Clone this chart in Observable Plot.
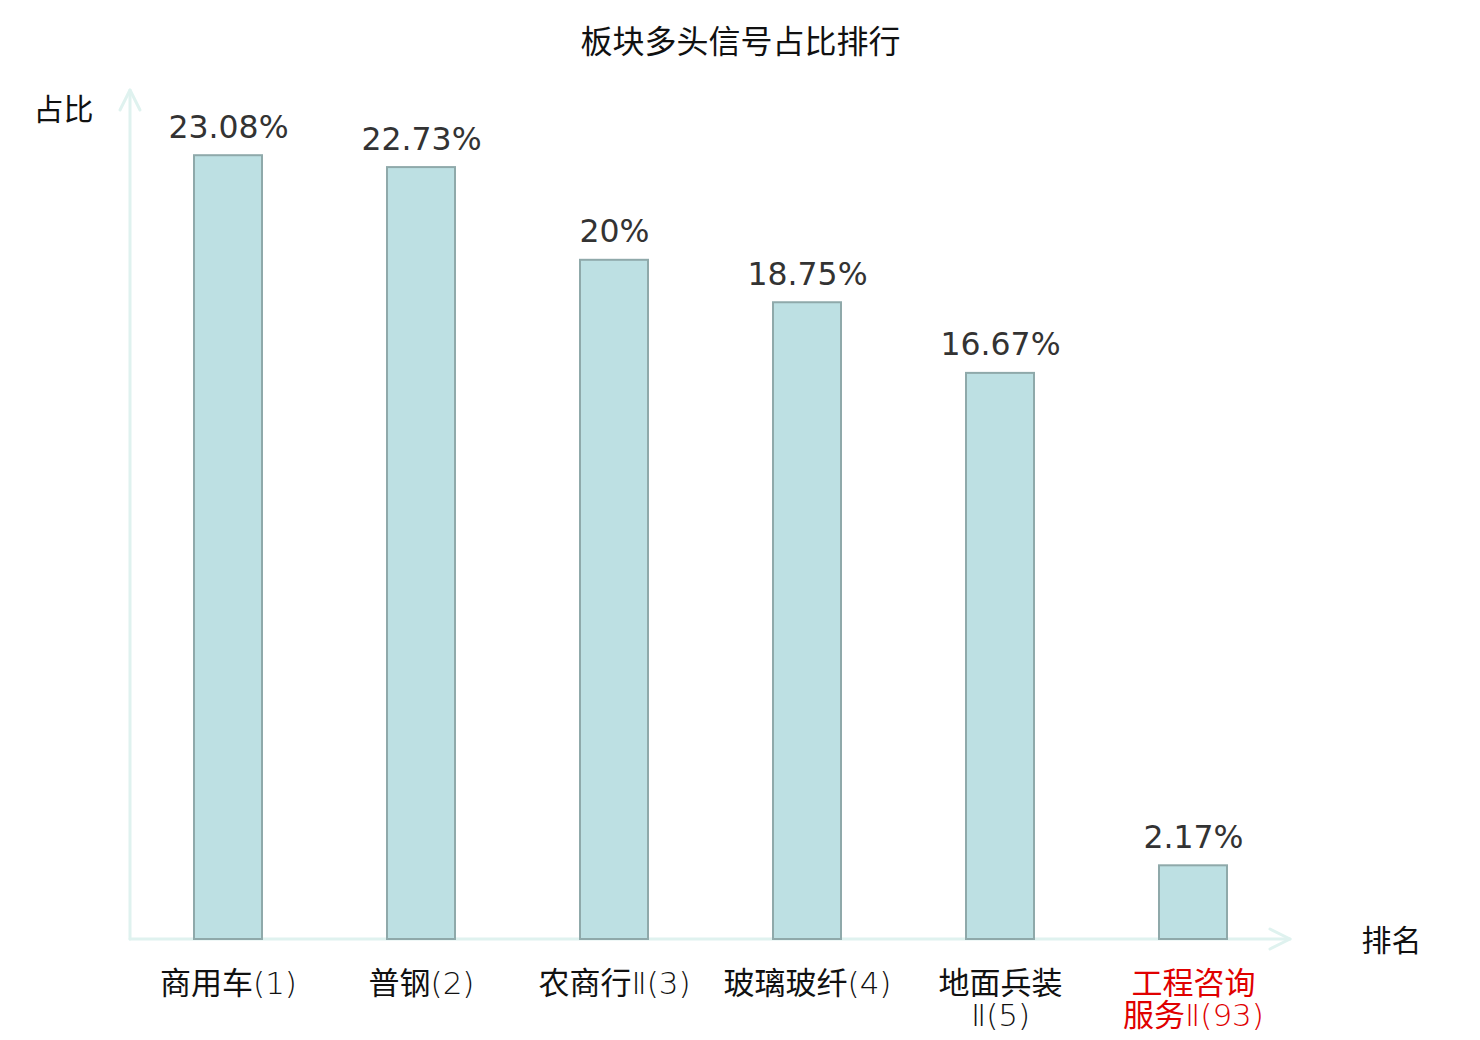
<!DOCTYPE html>
<html>
<head>
<meta charset="utf-8">
<script src="https://cdn.jsdelivr.net/npm/d3@7"></script>
<script src="https://cdn.jsdelivr.net/npm/@observablehq/plot@0.6"></script>
<style>
  html, body { margin: 0; padding: 0; background: #fff; }
  #chart svg { display: block; }
</style>
</head>
<body>
<div id="chart"></div>
<script>
const categories = ["商用车(1)", "普钢(2)", "农商行Ⅱ(3)", "玻璃玻纤(4)", "地面兵装Ⅱ(5)", "工程咨询服务Ⅱ(93)"];
const values = [23.08, 22.73, 20, 18.75, 16.67, 2.17];
const highlighted = ["工程咨询服务Ⅱ(93)"];
const titleText = "板块多头信号占比排行";
const yLabel = "占比";
const xLabel = "排名";

const data = categories.map((c, i) => ({name: c, value: values[i]}));
const wrap = (s) => s.length > 7 ? s.slice(0, 4) + "\n" + s.slice(4) : s;

const cjk = "'Noto Sans CJK SC', 'Noto Sans', sans-serif";
const tickFont = "'DejaVu Sans ExtraLight', 'DejaVu Sans Light', 'Noto Sans CJK SC', sans-serif";
const axisColor = "#dff2ef";

const plot = Plot.plot({
  width: 1480,
  height: 1040,
  marginLeft: 130,
  marginRight: 190,
  marginTop: 90,
  marginBottom: 101,
  style: {background: "#fff", fontFamily: cjk},
  x: {domain: categories, paddingInner: 0.648, paddingOuter: 0.324, axis: null},
  y: {domain: [0, 25], axis: null},
  marks: [
    Plot.barY(data, {x: "name", y: "value", fill: "#bde0e3", stroke: "#8fa9aa", strokeWidth: 2}),
    Plot.text(data, {
      x: "name", y: "value", text: d => `${d.value}%`,
      dy: -18, lineAnchor: "bottom", fontSize: 31.5,
      fontFamily: "'DejaVu Sans', sans-serif", fill: "#333"
    }),
    Plot.text(data, {
      x: "name", y: () => 0, text: d => wrap(d.name),
      dy: 32, lineAnchor: "top", fontSize: 31, lineHeight: 1.03,
      fontFamily: tickFont,
      fill: d => highlighted.includes(d.name) ? "#e00000" : "#111"
    }),
    Plot.text([titleText], {
      frameAnchor: "top", dx: 30, dy: -48, lineAnchor: "middle", fontSize: 32, fill: "#111", fontFamily: cjk
    }),
    Plot.text([yLabel], {
      frameAnchor: "top-left", dx: -67, dy: 20, textAnchor: "middle", lineAnchor: "middle",
      fontSize: 30, fill: "#111", fontFamily: cjk
    }),
    Plot.text([xLabel], {
      frameAnchor: "bottom-right", dx: 101, dy: 2, textAnchor: "middle", lineAnchor: "middle",
      fontSize: 30, fill: "#111", fontFamily: cjk
    })
  ]
});

// axis lines with arrows, positioned from the plot's own scales
const xs = plot.scale("x"), ys = plot.scale("y");
const x0 = xs.range[0], x1 = xs.range[1];
const yb = ys.apply(0), yt = ys.apply(25);
const svg = d3.select(plot);
const g = svg.insert("g", ":first-child")
  .attr("fill", "none").attr("stroke", axisColor).attr("stroke-width", 3)
  .attr("stroke-linecap", "round").attr("stroke-linejoin", "round");
g.append("path").attr("d", `M${x0},${yb}V${yt}`);
g.append("path").attr("d", `M${x0 - 10},${yt + 20}L${x0},${yt}L${x0 + 10},${yt + 20}`);
g.append("path").attr("d", `M${x0},${yb}H${x1}`);
g.append("path").attr("d", `M${x1 - 20},${yb - 10}L${x1},${yb}L${x1 - 20},${yb + 10}`);
document.getElementById("chart").append(plot);
</script>
</body>
</html>
